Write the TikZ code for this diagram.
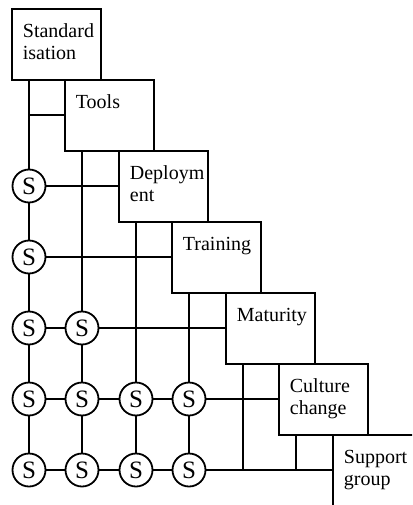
\documentclass[tikz,border=0pt]{standalone}
\usepackage{fontspec}
\setmainfont{Liberation Serif}

\begin{document}
\begin{tikzpicture}[x=1pt, y=-1pt, line width=1.8pt,
    box/.style={draw, anchor=north west, inner xsep=11pt, inner ysep=0pt,
        text width=67pt, align=left, text height=29pt, text depth=42pt,
        font=\fontsize{20}{22}\selectfont},
    snode/.style={circle, draw, minimum size=33pt, inner sep=0pt,
        font=\fontsize{25}{27}\selectfont}]
    \useasboundingbox (0,0) rectangle (412,505);
    \clip (0,0) rectangle (412,505);

    \node[box] (std) at (11,8) {Standard\\isation};
    \node[box] (tools) at (64,79) {Tools};
    \node[box] (dep) at (118,150) {Deploym\\ent};
    \node[box] (trn) at (171,221) {Training};
    \node[box] (mat) at (225,292) {Maturity};
    \node[box] (cul) at (278,363) {Culture\\change};
    \node[box, text depth=60pt] (sup) at (332,434) {Support\\group};

    \node[snode] (s20) at (29,186) {S};
    \node[snode] (s30) at (29,257) {S};
    \node[snode] (s40) at (29,328) {S};
    \node[snode] (s41) at (82,328) {S};
    \node[snode] (s50) at (29,399) {S};
    \node[snode] (s51) at (82,399) {S};
    \node[snode] (s52) at (136,399) {S};
    \node[snode] (s53) at (189,399) {S};
    \node[snode] (s60) at (29,470) {S};
    \node[snode] (s61) at (82,470) {S};
    \node[snode] (s62) at (136,470) {S};
    \node[snode] (s63) at (189,470) {S};

    \coordinate (m4) at ([xshift=18pt]mat.south west);
    \coordinate (c5) at ([xshift=18pt]cul.south west);

    % columns
    \draw (std.south -| s20) -- (s20) -- (s30) -- (s40) -- (s50) -- (s60);
    \draw (tools.south -| s41) -- (s41) -- (s51) -- (s61);
    \draw (dep.south -| s52) -- (s52) -- (s62);
    \draw (trn.south -| s53) -- (s53) -- (s63);
    \draw (m4) -- (m4 |- s60);
    \draw (c5) -- (c5 |- s60);

    % rows
    \draw (tools.west -| s20) -- (tools.west);
    \draw (s20) -- (s20 -| dep.west);
    \draw (s30) -- (s30 -| trn.west);
    \draw (s40) -- (s41) -- (s41 -| mat.west);
    \draw (s50) -- (s51) -- (s52) -- (s53) -- (s53 -| cul.west);
    \draw (s60) -- (s61) -- (s62) -- (s63) -- (s63 -| sup.west);
\end{tikzpicture}
\end{document}
